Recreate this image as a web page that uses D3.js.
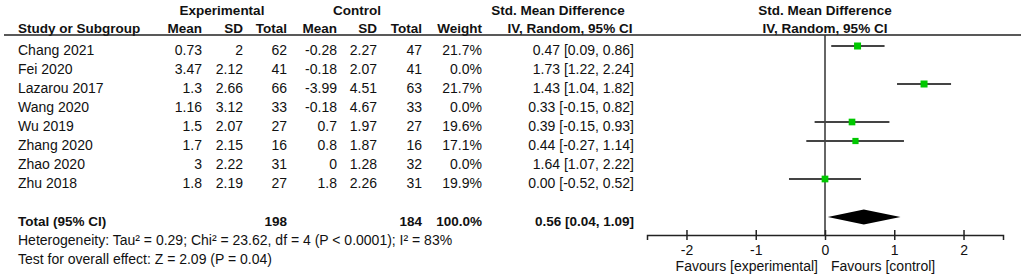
<!DOCTYPE html>
<html lang="en">

<head>
  <meta charset="utf-8">
  <title>Forest plot</title>
  <script type="text/javascript" src="https://cdn.jsdelivr.net/npm/d3@7"></script>
  <style type="text/css">
    body {
      margin: 0;
      background: #fff;
    }

    text {
      font-family: Arial, "Liberation Sans", sans-serif;
      font-size: 14px;
      fill: #111;
    }

    .bold {
      font-weight: bold;
      font-size: 13.5px;
    }
  </style>
</head>

<body>
  <script type="text/javascript">
    // Data fra figuren
    const studies = ["Chang 2021", "Fei 2020", "Lazarou 2017", "Wang 2020", "Wu 2019", "Zhang 2020", "Zhao 2020", "Zhu 2018"];
    const expMean = [0.73, 3.47, 1.3, 1.16, 1.5, 1.7, 3, 1.8];
    const expSD = [2, 2.12, 2.66, 3.12, 2.07, 2.15, 2.22, 2.19];
    const expN = [62, 41, 66, 33, 27, 16, 31, 27];
    const ctrlMean = [-0.28, -0.18, -3.99, -0.18, 0.7, 0.8, 0, 1.8];
    const ctrlSD = [2.27, 2.07, 4.51, 4.67, 1.97, 1.87, 1.28, 2.26];
    const ctrlN = [47, 41, 63, 33, 27, 16, 32, 31];
    const weights = [21.7, 0, 21.7, 0, 19.6, 17.1, 0, 19.9];
    const smd = [0.47, 1.73, 1.43, 0.33, 0.39, 0.44, 1.64, 0.00];
    const ciLow = [0.09, 1.22, 1.04, -0.15, -0.15, -0.27, 1.07, -0.52];
    const ciHigh = [0.86, 2.24, 1.82, 0.82, 0.93, 1.14, 2.22, 0.52];

    const totalExpN = 198;
    const totalCtrlN = 184;
    const totalWeight = 100.0;
    const totalSmd = [0.56, 0.04, 1.09]; // estimat, nedre, øvre
    const heterogeneity = "Heterogeneity: Tau\u00b2 = 0.29; Chi\u00b2 = 23.62, df = 4 (P < 0.0001); I\u00b2 = 83%";
    const overallTest = "Test for overall effect: Z = 2.09 (P = 0.04)";
    const tickValues = [-2, -1, 0, 1, 2];
    const favourLabels = ["Favours [experimental]", "Favours [control]"];

    const w = 1021;
    const h = 280;

    const svg = d3.select("body")
      .append("svg")
      .attr("width", w)
      .attr("height", h);

    // Rækker: 8 studier, en tom, total, heterogenitet, test
    const yScale = d3.scaleBand()
      .domain(d3.range(12))
      .range([36.5, 264.5]);
    const rowY = function (i) { return yScale(i) + yScale.bandwidth() / 2; };
    const textDy = 9;

    // Skala for forest plot
    const xScale = d3.scaleLinear()
      .domain([-2.57, 2.57])
      .range([647, 1003]);

    const wScale = d3.scaleSqrt()
      .domain([0, d3.max(weights)])
      .range([0, 7]);

    // Almindelig bindestreg som minus, som i originalen
    const locale = d3.formatLocale({ decimal: ".", thousands: ",", grouping: [3], currency: ["", ""], minus: "-" });
    const fmt2 = locale.format(".2f");
    const fmt1 = locale.format(".1f");

    // Overskrifter
    const headers1 = [
      ["Experimental", 222], ["Control", 357], ["Std. Mean Difference", 558], ["Std. Mean Difference", 825]
    ];
    svg.selectAll("text.h1")
      .data(headers1)
      .enter()
      .append("text")
      .attr("class", "h1 bold")
      .attr("x", function (d) { return d[1]; })
      .attr("y", 15)
      .attr("text-anchor", "middle")
      .text(function (d) { return d[0]; });

    // [tekst, x, anker]
    const headers2 = [
      ["Study or Subgroup", 18, "start"], ["Mean", 202, "end"], ["SD", 243, "end"], ["Total", 287, "end"],
      ["Mean", 337, "end"], ["SD", 377, "end"], ["Total", 422, "end"], ["Weight", 482, "end"],
      ["IV, Random, 95% CI", 570, "middle"], ["IV, Random, 95% CI", 825, "middle"]
    ];
    svg.selectAll("text.h2")
      .data(headers2)
      .enter()
      .append("text")
      .attr("class", "h2 bold")
      .attr("x", function (d) { return d[1]; })
      .attr("y", 32.5)
      .attr("text-anchor", function (d) { return d[2]; })
      .text(function (d) { return d[0]; });

    svg.append("line")
      .attr("x1", 4).attr("x2", w)
      .attr("y1", 35).attr("y2", 35)
      .attr("stroke", "#222")
      .attr("stroke-width", 1.5);

    // Tabel-kolonner
    const columns = [
      { x: 18, anchor: "start", vals: studies },
      { x: 202, anchor: "end", vals: expMean.map(String) },
      { x: 243, anchor: "end", vals: expSD.map(String) },
      { x: 287, anchor: "end", vals: expN.map(String) },
      { x: 337, anchor: "end", vals: ctrlMean.map(String) },
      { x: 377, anchor: "end", vals: ctrlSD.map(String) },
      { x: 422, anchor: "end", vals: ctrlN.map(String) },
      { x: 482, anchor: "end", vals: weights.map(function (d) { return fmt1(d) + "%"; }) },
      { x: 634, anchor: "end", vals: smd.map(function (d, i) { return fmt2(d) + " [" + fmt2(ciLow[i]) + ", " + fmt2(ciHigh[i]) + "]"; }) }
    ];
    columns.forEach(function (col) {
      svg.append("g")
        .selectAll("text")
        .data(col.vals)
        .enter()
        .append("text")
        .attr("x", col.x)
        .attr("y", function (d, i) { return rowY(i) + textDy; })
        .attr("text-anchor", col.anchor)
        .text(function (d) { return d; });
    });

    // Total-række
    const totalRow = [
      ["Total (95% CI)", 18, "start"], [String(totalExpN), 287, "end"], [String(totalCtrlN), 422, "end"],
      [fmt1(totalWeight) + "%", 482, "end"],
      [fmt2(totalSmd[0]) + " [" + fmt2(totalSmd[1]) + ", " + fmt2(totalSmd[2]) + "]", 634, "end"]
    ];
    svg.selectAll("text.total")
      .data(totalRow)
      .enter()
      .append("text")
      .attr("class", "total bold")
      .attr("x", function (d) { return d[1]; })
      .attr("y", rowY(9) + textDy)
      .attr("text-anchor", function (d) { return d[2]; })
      .text(function (d) { return d[0]; });

    svg.append("text").attr("x", 18).attr("y", rowY(10) + textDy).text(heterogeneity);
    svg.append("text").attr("x", 18).attr("y", rowY(11) + textDy).text(overallTest);

    // Forest plot
    const axisY = 235;
    svg.append("line")
      .attr("x1", xScale(0)).attr("x2", xScale(0))
      .attr("y1", 35).attr("y2", axisY)
      .attr("stroke", "#333")
      .attr("stroke-width", 1.5);

    const plotted = d3.range(studies.length).filter(function (i) { return weights[i] > 0; });

    svg.append("g")
      .selectAll("line")
      .data(plotted)
      .enter()
      .append("line")
      .attr("x1", function (i) { return xScale(ciLow[i]); })
      .attr("x2", function (i) { return xScale(ciHigh[i]); })
      .attr("y1", rowY)
      .attr("y2", rowY)
      .attr("stroke", "#444")
      .attr("stroke-width", 2);

    svg.append("g")
      .selectAll("rect")
      .data(plotted)
      .enter()
      .append("rect")
      .attr("x", function (i) { return xScale(smd[i]) - wScale(weights[i]) / 2; })
      .attr("y", function (i) { return rowY(i) - wScale(weights[i]) / 2; })
      .attr("width", function (i) { return wScale(weights[i]); })
      .attr("height", function (i) { return wScale(weights[i]); })
      .attr("fill", "#00c800");

    // Diamant for total
    const yc = rowY(9);
    const dia = [
      [xScale(totalSmd[1]), yc], [xScale(totalSmd[0]), yc - 7.5],
      [xScale(totalSmd[2]), yc], [xScale(totalSmd[0]), yc + 7.5]
    ];
    svg.append("polygon")
      .attr("points", dia.map(function (p) { return p.join(","); }).join(" "))
      .attr("fill", "#000");

    // Akse
    const axis = d3.axisBottom(xScale)
      .tickValues(tickValues)
      .tickSizeOuter(0)
      .tickSize(5)
      .tickFormat(function (d) { return String(d); });

    const gAxis = svg.append("g")
      .attr("transform", "translate(0," + axisY + ")")
      .call(axis);
    gAxis.select(".domain").attr("stroke", "#222").attr("stroke-width", 1.5);
    gAxis.selectAll(".tick line").attr("y1", -5).attr("y2", 5).attr("stroke", "#222").attr("stroke-width", 1.5);
    gAxis.selectAll(".tick text")
      .attr("y", 20)
      .attr("dy", 0)
      .style("font-family", "Arial, 'Liberation Sans', sans-serif")
      .style("font-size", "14px")
      .attr("fill", "#111");

    svg.append("text")
      .attr("x", xScale(0) - 7)
      .attr("y", 271)
      .attr("text-anchor", "end")
      .text(favourLabels[0]);
    svg.append("text")
      .attr("x", xScale(0) + 6)
      .attr("y", 271)
      .attr("text-anchor", "start")
      .text(favourLabels[1]);
  </script>
</body>

</html>
